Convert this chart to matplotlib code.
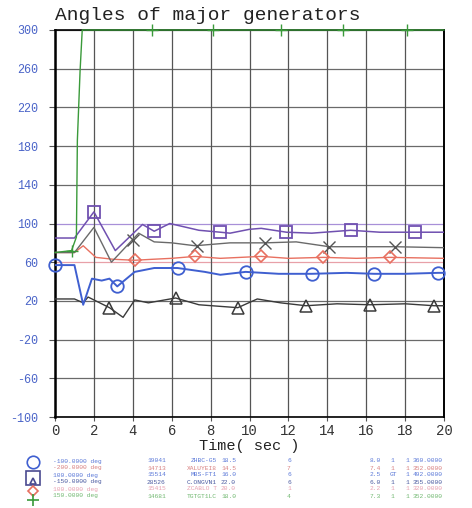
"""Angles of major generators - recreated chart."""

import matplotlib

matplotlib.use("Agg")
import matplotlib.pyplot as plt

W, H = 472, 508

# series: time (s) and angle (deg)
blue_t = [0, 1.0, 1.45, 1.9, 2.4, 2.8, 3.2, 4.1, 5.1, 6.3, 7.7, 8.5, 9.8, 11.5, 13.2, 15.0, 16.4, 18.0, 19.7, 20]
blue_v = [57, 57, 16, 43, 41, 43, 35, 50, 54, 54, 50, 47, 50, 48, 48, 49, 48, 48, 49, 49]

purple_t = [0, 1.0, 2.0, 3.1, 4.5, 5.1, 5.9, 7.4, 8.5, 9.0, 10.0, 10.6, 11.9, 13.2, 15.2, 16.7, 18.5, 20]
purple_v = [85, 85, 112, 72, 99, 92, 100, 93, 91, 90, 94, 95, 91, 90, 93, 91, 91, 91]

gray_t = [0, 1.0, 2.0, 2.9, 4.3, 5.1, 6.0, 7.2, 9.0, 10.8, 12.4, 14.1, 17.5, 20]
gray_v = [70, 70, 96, 60, 90, 81, 80, 77, 80, 80, 81, 76, 76, 75]

orange_t = [0, 1.0, 1.45, 2.1, 3.0, 4.1, 5.0, 6.0, 7.2, 8.5, 10.6, 12.0, 13.8, 15.5, 17.2, 20]
orange_v = [70, 70, 77, 65, 63, 62, 63, 64, 66, 64, 66, 64, 65, 64, 65, 64]

dark_t = [0, 1.0, 1.45, 1.7, 2.1, 2.8, 3.5, 4.1, 4.8, 6.2, 7.4, 9.4, 10.4, 11.6, 12.9, 14.5, 16.2, 18.0, 19.5, 20]
dark_v = [22, 22, 18, 24, 20, 13, 3, 21, 18, 23, 16, 13, 22, 18, 15, 17, 16, 17, 15, 15]

green_t = [0, 0.85, 1.1, 1.13, 1.15, 1.29, 1.4, 20]
green_v = [70, 72, 86, 145, 186, 258, 300, 300]

# marker positions
circle_t = [0, 3.2, 6.3, 9.8, 13.2, 16.4, 19.7]
circle_v = [57, 35, 54, 50, 48, 48, 49]
square_t = [2.0, 5.1, 8.5, 11.9, 15.2, 18.5]
square_v = [112, 92, 91, 91, 93, 91]
tri_t = [2.8, 6.2, 9.4, 12.9, 16.2, 19.5]
tri_v = [13, 23, 13, 15, 16, 15]
cross_t = [4.0, 7.3, 10.8, 14.1, 17.5]
cross_v = [83, 77, 80, 76, 76]
dia_t = [4.1, 7.2, 10.6, 13.8, 17.2]
dia_v = [62, 66, 66, 65, 65]
plus_t = [0.85, 5.0, 8.1, 11.6, 14.8, 18.1]
plus_v = [72, 300, 300, 300, 300, 300]

x_ticks = [0, 2, 4, 6, 8, 10, 12, 14, 16, 18, 20]
y_ticks = [-100, -60, -20, 20, 60, 100, 140, 180, 220, 260, 300]

# legend table under the chart (scanned text, best guess)
leg_c1 = ["-100.0000 deg", "-200.0000 deg", "100.0000 deg", "-150.0000 deg", "100.0000 deg", "150.0000 deg"]
leg_c2 = ["19041", "14713", "15514", "28526", "15415", "14681"]
leg_c3 = ["ZHBC-G5", "XALUYEI8", "MBS-FT1", "C.ONGVN1", "ZCABLO T", "TGTGT1LC"]
leg_c4 = ["18.5", "14.5", "16.0", "22.0", "20.0", "18.0"]
leg_c5 = ["6", "7", "6", "6", "1", "4"]
leg_c6 = ["8.0", "7.4", "2.5", "6.0", "2.2", "7.3"]
leg_c7 = ["1", "1", "GT", "1", "1", "1"]
leg_c8 = ["1", "1", "1", "1", "1", "1"]
leg_c9 = ["360.0000", "352.0000", "492.0000", "355.0000", "320.0000", "352.0000"]
leg_colors = ["#5a78d8", "#d88080", "#5a78d8", "#4a5aa0", "#e8a0b0", "#70b870"]

MONO = "Liberation Mono"
BLUE = "#3f5fd0"
PURPLE = "#7050b0"
GRAY = "#6a6a6a"
ORANGE = "#e87060"
DARK = "#3a3a3a"
GREEN = "#3a9a3a"

fig = plt.figure(figsize=(W / 100, H / 100), dpi=100)
fig.patch.set_facecolor("white")
ax = fig.add_axes([55 / W, 1 - 417 / H, (444 - 55) / W, (417 - 30) / H])
ax.set_xlim(0, 20)
ax.set_ylim(-100, 300)

for v in y_ticks:
    c = "#6a6a6a"
    if v == 100:
        c = "#a890d8"
    elif v == 60:
        c = "#e8a0a8"
    ax.axhline(v, color=c, lw=0.9, zorder=1)
for t in x_ticks:
    ax.axvline(t, color="#555555", lw=0.9, zorder=1)

ax.plot(dark_t, dark_v, color=DARK, lw=1.0, zorder=3)
ax.plot(blue_t, blue_v, color=BLUE, lw=1.4, zorder=3)
ax.plot(orange_t, orange_v, color=ORANGE, lw=1.0, zorder=3)
ax.plot(gray_t, gray_v, color=GRAY, lw=1.0, zorder=3)
ax.plot(purple_t, purple_v, color=PURPLE, lw=1.1, zorder=3)
ax.plot(green_t, green_v, color=GREEN, lw=1.0, zorder=4, clip_on=False)

mk = dict(linestyle="none", markerfacecolor="none", zorder=5, clip_on=False)
ax.plot(circle_t, circle_v, marker="o", markersize=9, markeredgecolor=BLUE, markeredgewidth=1.3, **mk)
ax.plot(square_t, square_v, marker="s", markersize=9, markeredgecolor=PURPLE, markeredgewidth=1.3, **mk)
ax.plot(tri_t, tri_v, marker="^", markersize=9, markeredgecolor=DARK, markeredgewidth=1.1, **mk)
ax.plot(cross_t, cross_v, marker="x", markersize=8, markeredgecolor="#555555", markeredgewidth=1.0, **mk)
ax.plot(dia_t, dia_v, marker="D", markersize=6, markeredgecolor=ORANGE, markeredgewidth=1.2, **mk)
ax.plot(plus_t, plus_v, marker="+", markersize=8, markeredgecolor=GREEN, markeredgewidth=1.0, **mk)

for side in ["left", "right", "bottom", "top"]:
    ax.spines[side].set_color("black")
ax.spines["left"].set_linewidth(1.8)
ax.spines["right"].set_linewidth(1.4)
ax.spines["bottom"].set_linewidth(1.2)
ax.spines["top"].set_linewidth(1.2)

ax.set_xticks(x_ticks)
ax.set_xticklabels([str(t) for t in x_ticks], fontfamily=MONO, fontsize=10, color="#333333")
ax.set_yticks(y_ticks)
ax.set_yticklabels([str(v) for v in y_ticks], fontfamily=MONO, fontsize=8.5, color="#4a64c8")
ax.tick_params(axis="x", length=3, pad=2, color="#555555")
ax.tick_params(axis="y", length=4, pad=8, color="#555555")
ax.set_xlabel("Time( sec )", fontfamily=MONO, fontsize=11, color="#222222", labelpad=1)

fig.text(55 / W, 1 - 15 / H, "Angles of major generators", fontfamily=MONO,
         fontsize=14, color="#222222", va="center", ha="left")


def px(x, y):
    return x / W, 1 - y / H


# legend symbols
sym = [("o", BLUE, 462, 9), ("s", "#4a4a90", 478, 10), ("^", "#4a4a90", 481, 5),
       ("D", ORANGE, 491, 5), ("+", GREEN, 500, 9)]
for m, c, yy, s in sym:
    fig.lines.append(plt.Line2D([33 / W], [1 - yy / H], marker=m, markersize=s, markerfacecolor="none",
                                markeredgecolor=c, markeredgewidth=1.2, linestyle="none",
                                transform=fig.transFigure))

cols = [(leg_c1, 53, "left"), (leg_c2, 147, "left"), (leg_c3, 217, "right"), (leg_c4, 221, "left"),
        (leg_c5, 287, "left"), (leg_c6, 370, "left"), (leg_c7, 390, "left"), (leg_c8, 405, "left"),
        (leg_c9, 413, "left")]
for i in range(6):
    yy = 461 + 7 * i
    for texts, xx, ha in cols:
        fx, fy = px(xx, yy)
        fig.text(fx, fy, texts[i], fontfamily=MONO, fontsize=4.5, color=leg_colors[i], ha=ha, va="center")

fig.savefig("out.png", dpi=100)
plt.close(fig)
